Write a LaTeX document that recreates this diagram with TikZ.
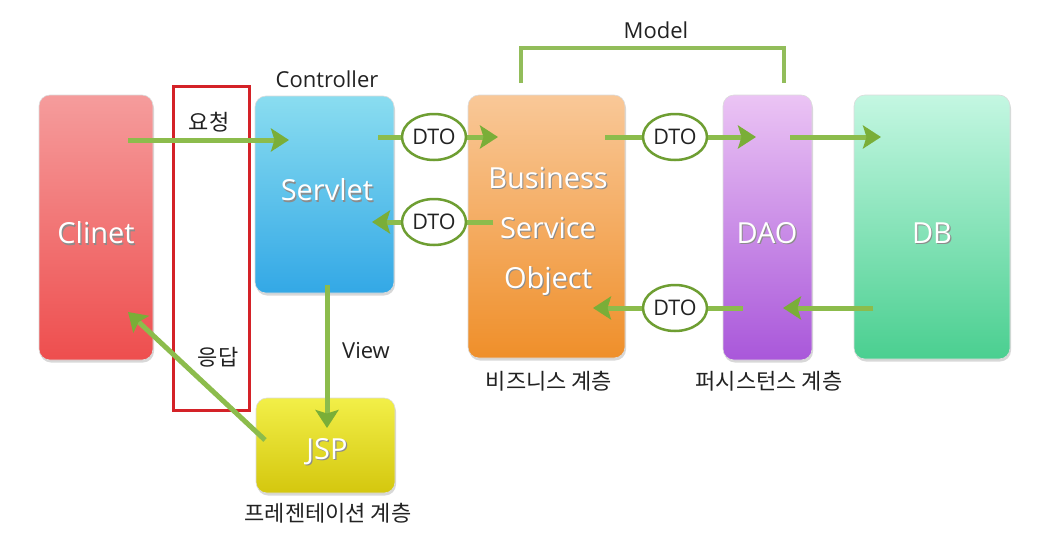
\documentclass[tikz,border=0pt]{standalone}
\usepackage{fontspec}
\setmainfont{Open Sans}
\newfontfamily\kr{Noto Sans CJK KR}
\usetikzlibrary{arrows.meta,shapes.geometric,calc,shadows}
\definecolor{agreen}{HTML}{8CBC4C}
\definecolor{ahead}{HTML}{7AAE38}
\definecolor{dtogreen}{HTML}{6E9E32}
\definecolor{brgreen}{HTML}{92BD5A}
\definecolor{redc}{HTML}{D42228}
\definecolor{txt}{HTML}{222222}
\definecolor{clT}{HTML}{F59C9C}\definecolor{clB}{HTML}{EE4E4E}
\definecolor{svT}{HTML}{8ADDF0}\definecolor{svB}{HTML}{33A8E6}
\definecolor{bsT}{HTML}{F9C898}\definecolor{bsB}{HTML}{EF8F2A}
\definecolor{daT}{HTML}{EBC4F4}\definecolor{daB}{HTML}{A957DA}
\definecolor{dbT}{HTML}{C4F7E2}\definecolor{dbB}{HTML}{4ACF90}
\definecolor{jsT}{HTML}{F2EF48}\definecolor{jsB}{HTML}{D4C70E}
\tikzset{
  boxnode/.style={rounded corners=11pt, inner sep=0pt, draw=black!14, line width=0.6pt,
    drop shadow={opacity=0.3, shadow xshift=1pt, shadow yshift=-2.5pt}},
  btxt/.style={text=white, font=\fontsize{29}{50}\selectfont, align=center, inner sep=0pt},
  btxtsh/.style={text=black!45, font=\fontsize{29}{50}\selectfont, align=center, inner sep=0pt},
  lbl/.style={text=txt, font=\fontsize{22}{24}\selectfont, inner sep=0pt},
  krlbl/.style={text=txt, font=\kr\fontsize{22}{24}\selectfont, inner sep=0pt},
  dto/.style={ellipse, draw=dtogreen, line width=2.5pt, fill=white, minimum width=64pt,
    minimum height=46pt, inner sep=0pt, text=txt, font=\fontsize{21.5}{23}\selectfont},
  gline/.style={draw=agreen, line width=5pt},
  garrow/.style={gline, -{Stealth[length=18pt,width=23pt,inset=3.5pt,fill=ahead,color=ahead]}},
}
\newcommand\boxlabel[3]{%
  \node[btxtsh] at ($(#2)+(1.2,1.2)$) {#3};
  \node[btxt] (#1) at (#2) {#3};}
\begin{document}
\begin{tikzpicture}[x=1pt,y=-1pt]
\useasboundingbox (0,0) rectangle (1042,549);
\fill[white] (0,0) rectangle (1042,549);

% boxes
\node[boxnode, minimum width=114pt, minimum height=265pt, top color=clT, bottom color=clB] (clinet) at (96,227.5) {};
\node[boxnode, minimum width=139pt, minimum height=197pt, top color=svT, bottom color=svB] (servlet) at (324.5,194.5) {};
\node[boxnode, minimum width=157pt, minimum height=263pt, top color=bsT, bottom color=bsB] (business) at (546.5,226.5) {};
\node[boxnode, minimum width=89pt, minimum height=265pt, top color=daT, bottom color=daB] (dao) at (767.5,227.5) {};
\node[boxnode, minimum width=156pt, minimum height=264pt, top color=dbT, bottom color=dbB] (db) at (932,227) {};
\node[boxnode, minimum width=139pt, minimum height=95pt, top color=jsT, bottom color=jsB] (jsp) at (325.5,445.5) {};

% box texts
\boxlabel{clinetL}{96,233}{Clinet}
\boxlabel{servletL}{327,190}{Servlet}
\boxlabel{businessL}{548,231}{Business\\Service\\Object}
\boxlabel{daoL}{767,233}{DAO}
\boxlabel{dbL}{932,233}{DB}
\boxlabel{jspL}{327,452}{JSP}

% red box
\node[draw=redc, line width=3pt, minimum width=76pt, minimum height=324pt, inner sep=0pt] (resp) at (211,248) {};

% labels
\node[lbl] (ctrl) at (327,79) {Controller};
\node[lbl] (model) at (656,30) {Model};
\node[lbl] (view) at (366,351) {View};
\node[krlbl] (req) at (209,122) {요청};
\node[krlbl] (res) at (218,357) {응답};
\node[krlbl] (bizL) at (549,381) {비즈니스 계층};
\node[krlbl] (perL) at (769,381) {퍼시스턴스 계층};
\node[krlbl] (preL) at (328,513) {프레젠테이션 계층};

% Model bracket
\coordinate (mL) at (521,83);
\coordinate (mR) at (784,83);
\draw[draw=brgreen, line width=4pt] (mL) -- ++(0,-35) -| (mR);

% DTO nodes
\node[dto] (d1) at (434,137) {DTO};
\node[dto] (d2) at (434,222) {DTO};
\node[dto] (d3) at (675,137) {DTO};
\node[dto] (d4) at (675,308) {DTO};

% arrow end points
\coordinate (a1s) at (128,140);  \coordinate (a1e) at (289,140);
\coordinate (a2s) at (378,137);  \coordinate (a2e) at (498,137);
\coordinate (a3s) at (493,222);  \coordinate (a3e) at (372,222);
\coordinate (a4s) at (605,137);  \coordinate (a4e) at (756,137);
\coordinate (a5s) at (790,137);  \coordinate (a5e) at (881,137);
\coordinate (a6s) at (873,308);  \coordinate (a6e) at (783,308);
\coordinate (a7s) at (743,308);  \coordinate (a7e) at (593,308);
\coordinate (a8s) at (327,285);  \coordinate (a8e) at (327,428);
\coordinate (a9s) at (265,440);  \coordinate (a9e) at (128,312);

% connectors
\draw[garrow] (a1s) -- (a1e);
\draw[gline] (a2s) -- (d1.west);
\draw[garrow] (d1.east) -- (a2e);
\draw[gline] (a3s) -- (d2.east);
\draw[garrow] (d2.west) -- (a3e);
\draw[gline] (a4s) -- (d3.west);
\draw[garrow] (d3.east) -- (a4e);
\draw[garrow] (a5s) -- (a5e);
\draw[garrow] (a6s) -- (a6e);
\draw[gline] (a7s) -- (d4.east);
\draw[garrow] (d4.west) -- (a7e);
\draw[garrow] (a8s) -- (a8e);
\draw[garrow] (a9s) -- (a9e);
\end{tikzpicture}
\end{document}
